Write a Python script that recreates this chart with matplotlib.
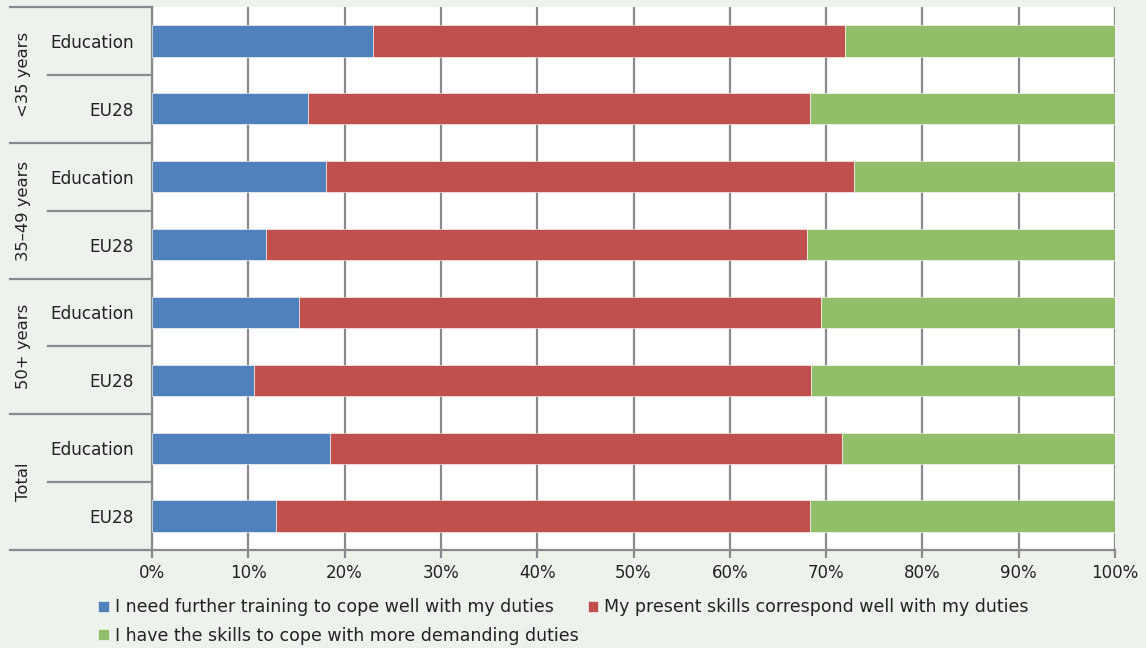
import matplotlib.pyplot as plt
import matplotlib.transforms as mtransforms
import numpy as np

groups = ["<35 years", "35\u201349 years", "50+ years", "Total"]
rows = ["Education", "EU28"]
need_training = [22.9, 16.2, 18.1, 11.8, 15.3, 10.6, 18.5, 12.9]
present_skills = [49.1, 52.1, 54.8, 56.2, 54.2, 57.8, 53.2, 55.4]
more_demanding = [28.0, 31.7, 27.1, 32.0, 30.5, 31.6, 28.3, 31.7]
series_names = ["I need further training to cope well with my duties",
                "My present skills correspond well with my duties",
                "I have the skills to cope with more demanding duties"]
colors = ["#4F81BD", "#C0504D", "#92BE69"]

bg = "#EDF2EC"
grey = "#8A8A8E"
plt.rcParams["font.family"] = ["DejaVu Sans"]

fig = plt.figure(figsize=(11.46, 6.48), dpi=100, facecolor=bg)
ax = fig.add_axes([152 / 1146, 1 - 550 / 648, 963 / 1146, 543 / 648])
ax.set_facecolor("white")

y = np.arange(len(need_training))
left = np.zeros(len(y))
handles = []
for vals, name, c in zip([need_training, present_skills, more_demanding], series_names, colors):
    h = ax.barh(y, vals, left=left, height=0.46, color=c, label=name,
                edgecolor="white", linewidth=0.4, zorder=3)
    handles.append(h)
    left = left + np.array(vals)

ax.set_xlim(0, 100)
ax.set_ylim(len(y) - 0.5, -0.5)
ax.set_xticks(np.arange(0, 101, 10))
ax.set_xticklabels([f"{v}%" for v in range(0, 101, 10)], fontsize=12, color="#222222")
ax.grid(axis="x", color=grey, linewidth=1.6, zorder=0)
ax.tick_params(axis="x", length=6, width=1.6, color=grey, pad=4)

ax.set_yticks(y)
ax.set_yticklabels(rows * len(groups), fontsize=12.2, color="#222222")
ax.tick_params(axis="y", length=0, pad=13)

for s in ["top", "right"]:
    ax.spines[s].set_visible(False)
for s in ["left", "bottom"]:
    ax.spines[s].set_color(grey)
    ax.spines[s].set_linewidth(1.6)

# group separators and labels on the left
trans = mtransforms.blended_transform_factory(ax.transAxes, ax.transData)
for b in np.arange(-0.5, len(y), 2):
    ax.plot([-0.1475, 0], [b, b], color=grey, lw=1.6, transform=trans, clip_on=False)
for b in np.arange(0.5, len(y), 2):
    ax.plot([-0.108, 0], [b, b], color=grey, lw=1.6, transform=trans, clip_on=False)
for i, g in enumerate(groups):
    ax.text(-0.133, 2 * i + 0.5, g, rotation=90, ha="center", va="center",
            fontsize=11.8, color="#222222", transform=trans)

fig.legend([handles[0], handles[2], handles[1]],
           [series_names[0], series_names[2], series_names[1]],
           ncol=2, loc="upper left", bbox_to_anchor=(86 / 1146, 1 - 586 / 648),
           frameon=False, fontsize=12.5, handlelength=0.6, handleheight=0.6,
           handletextpad=0.35, columnspacing=0.55, labelspacing=0.6,
           labelcolor="#222222", borderpad=0.2)

fig.savefig("out.png", dpi=100, facecolor=bg)
